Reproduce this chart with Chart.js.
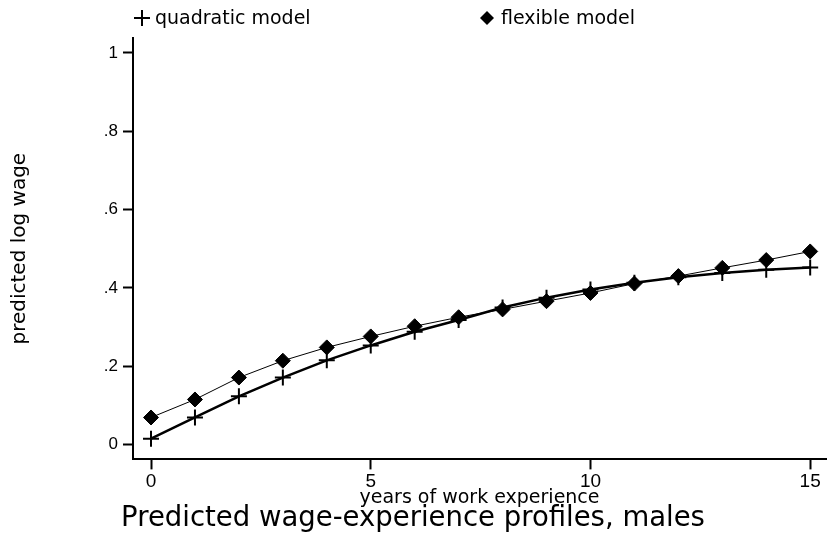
<!DOCTYPE html>
<html>
<head>
<meta charset="utf-8">
<script src="https://cdn.jsdelivr.net/npm/chart.js@4/dist/chart.umd.min.js"></script>
<style>
  html, body { margin: 0; padding: 0; background: #fff; }
  #wrap { width: 829px; height: 540px; position: relative; }
</style>
</head>
<body>
<div id="wrap"><canvas id="c" width="829" height="540"></canvas></div>
<script>
// ---- data ----
const experience = [0, 1, 2, 3, 4, 5, 6, 7, 8, 9, 10, 11, 12, 13, 14, 15];
const quadraticModel = [0.015, 0.069, 0.123, 0.171, 0.215, 0.253, 0.288, 0.318, 0.350, 0.375, 0.396, 0.413, 0.427, 0.438, 0.446, 0.452];
const flexibleModel = [0.069, 0.115, 0.171, 0.214, 0.248, 0.276, 0.302, 0.325, 0.345, 0.366, 0.387, 0.411, 0.430, 0.451, 0.471, 0.493];
const xTicks = [0, 5, 10, 15];
const yTicks = [0, 0.2, 0.4, 0.6, 0.8, 1];
const seriesNames = ['quadratic model', 'flexible model'];
const titleText = 'Predicted wage-experience profiles, males';
const xTitle = 'years of work experience';
const yTitle = 'predicted log wage';

const toPts = arr => experience.map((x, i) => ({ x: x, y: arr[i] }));
const fmtY = v => (v === 0 ? '0' : v === 1 ? '1' : v.toFixed(1).replace(/^0/, ''));

const textFont = 'DejaVu Sans';
Chart.defaults.font.family = 'Liberation Sans';
Chart.defaults.font.size = 17;
Chart.defaults.color = '#000';

// custom legend drawn at fixed positions, using dataset labels
const topLegend = {
  id: 'topLegend',
  afterDraw(chart) {
    const ctx = chart.ctx;
    ctx.save();
    ctx.fillStyle = '#000';
    ctx.strokeStyle = '#000';
    ctx.font = '19px "' + textFont + '"';
    ctx.textBaseline = 'middle';
    ctx.textAlign = 'left';
    const y = 18;
    // cross marker
    ctx.lineWidth = 2;
    ctx.beginPath();
    ctx.moveTo(134, y); ctx.lineTo(150, y);
    ctx.moveTo(142, y - 8); ctx.lineTo(142, y + 8);
    ctx.stroke();
    ctx.fillText(chart.data.datasets[0].label, 155, y + 1);
    // diamond marker
    ctx.beginPath();
    ctx.moveTo(487, y - 7); ctx.lineTo(494, y); ctx.lineTo(487, y + 7); ctx.lineTo(480, y);
    ctx.closePath();
    ctx.fill();
    ctx.fillText(chart.data.datasets[1].label, 501, y + 1);
    ctx.restore();
  }
};

new Chart(document.getElementById('c'), {
  type: 'line',
  data: {
    datasets: [
      {
        label: seriesNames[0],
        data: toPts(quadraticModel),
        borderColor: '#000',
        backgroundColor: '#000',
        borderWidth: 2.5,
        pointStyle: 'cross',
        pointRadius: 8,
        pointBorderWidth: 2,
        pointBorderColor: '#000',
        tension: 0,
        order: 2
      },
      {
        label: seriesNames[1],
        data: toPts(flexibleModel),
        borderColor: '#000',
        backgroundColor: '#000',
        borderWidth: 1,
        pointStyle: 'rectRot',
        pointRadius: 7.5,
        pointBorderWidth: 1,
        pointBackgroundColor: '#000',
        pointBorderColor: '#000',
        tension: 0,
        order: 1
      }
    ]
  },
  options: {
    responsive: false,
    animation: false,
    devicePixelRatio: 1,
    layout: { autoPadding: false, padding: { top: 38, right: 3, left: 0, bottom: 0 } },
    plugins: {
      legend: { display: false },
      tooltip: { enabled: false },
      title: {
        display: true,
        text: titleText,
        position: 'bottom',
        color: '#000',
        font: { family: textFont, size: 27.5, weight: 'normal', lineHeight: 1.2 },
        padding: { top: 0, bottom: 5 }
      }
    },
    scales: {
      x: {
        type: 'linear',
        min: -0.41,
        max: 15.36,
        afterBuildTicks: s => { s.ticks = xTicks.map(v => ({ value: v })); },
        afterFit: s => { s.height = 42.6; s.paddingLeft = 0; s.paddingRight = 0; },
        ticks: { color: '#000', font: { family: 'Liberation Sans', size: 19 }, padding: 1, maxRotation: 0, autoSkip: false },
        grid: { drawOnChartArea: false, drawTicks: true, tickLength: 10, tickColor: '#000', tickWidth: 2 },
        border: { display: true, color: '#000', width: 2 },
        title: {
          display: true, text: xTitle, color: '#000',
          font: { family: textFont, size: 19, lineHeight: 1 },
          padding: { top: 0, bottom: -5.1 }
        }
      },
      y: {
        type: 'linear',
        min: -0.038,
        max: 1.038,
        afterBuildTicks: s => { s.ticks = yTicks.map(v => ({ value: v })); },
        afterFit: s => { s.width = 133; s.paddingTop = 0; s.paddingBottom = 0; },
        ticks: { color: '#000', font: { family: 'Liberation Sans', size: 17 }, padding: 5, autoSkip: false, callback: v => fmtY(v) },
        grid: { drawOnChartArea: false, drawTicks: true, tickLength: 10, tickColor: '#000', tickWidth: 2 },
        border: { display: true, color: '#000', width: 2 },
        title: {
          display: true, text: yTitle, color: '#000',
          font: { family: textFont, size: 20, lineHeight: 1.2 },
          padding: { top: 8, bottom: 0 }
        }
      }
    }
  },
  plugins: [topLegend]
});
</script>
</body>
</html>
